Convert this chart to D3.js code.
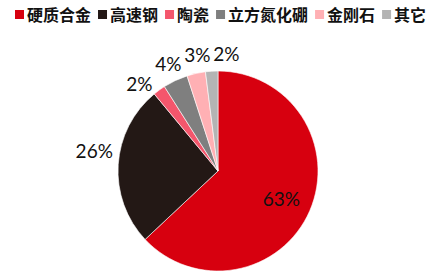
<!DOCTYPE html>
<html>
<head>
<meta charset="utf-8">
<script src="https://cdn.jsdelivr.net/npm/d3@7"></script>
<style>
  html, body { margin: 0; padding: 0; background: #fff; }
  svg { display: block; }
</style>
</head>
<body>
<svg id="chart" width="440" height="280"></svg>
<script>
// Material shares (%)
const categories = ["硬质合金", "高速钢", "陶瓷", "立方氮化硼", "金刚石", "其它"];
const values = [63, 26, 2, 4, 3, 2];
const colors = ["#D7000F", "#231815", "#F4566C", "#7F7F7F", "#FFB0B4", "#B4B4B4"];

const svg = d3.select("#chart");
const cx = 218, cy = 171, r = 100;

// ---- legend ----
const legend = svg.append("g").attr("class", "legend");
let lx = 15;
categories.forEach((name, i) => {
  legend.append("rect")
    .attr("x", lx).attr("y", 10).attr("width", 9).attr("height", 9)
    .attr("fill", colors[i]);
  const t = legend.append("text")
    .attr("x", lx + 12).attr("y", 21)
    .attr("font-family", "'Noto Sans CJK SC', sans-serif")
    .attr("font-size", 16).attr("font-weight", 700)
    .attr("fill", "#111")
    .text(name);
  lx += 12 + t.node().getComputedTextLength() + 7;
});

// ---- pie ----
const pie = d3.pie().sort(null).value(d => d)
  .startAngle(0).endAngle(2 * Math.PI);
const arcs = pie(values);
const arc = d3.arc().innerRadius(0).outerRadius(r);

const g = svg.append("g").attr("transform", `translate(${cx},${cy})`);
g.selectAll("path").data(arcs).join("path")
  .attr("d", arc)
  .attr("fill", (d, i) => colors[i])
  .attr("stroke", "#fff").attr("stroke-width", 0.6);

// ---- labels ----
const mid = d => (d.startAngle + d.endAngle) / 2;
const labels = arcs.map((d, i) => {
  const a = mid(d);
  const share = values[i] / d3.sum(values);
  if (share > 0.5) {
    const rr = r * 0.69;
    return { x: Math.sin(a) * rr, y: -Math.cos(a) * rr, v: values[i], small: false };
  }
  if (share > 0.1) {
    const rr = r * 1.24;
    return { x: Math.sin(a) * rr, y: -Math.cos(a) * rr - 13, v: values[i], small: false };
  }
  const rr = r * 1.18;
  return { x: Math.sin(a) * rr, y: -Math.cos(a) * rr, v: values[i], small: true, R: rr };
});

// spread the crowded small-slice labels evenly around their mean x,
// then put them back on the label circle
const small = labels.filter(l => l.small).sort((a, b) => a.x - b.x);
const gap = 29;
const meanX = d3.mean(small, l => l.x) + 3;
small.forEach((l, k) => {
  l.x = meanX + (k - (small.length - 1) / 2) * gap;
  l.y = -Math.sqrt(Math.max(0, l.R * l.R - l.x * l.x));
});

g.selectAll("text.lbl").data(labels).join("text")
  .attr("class", "lbl")
  .attr("x", d => d.x).attr("y", d => d.y)
  .attr("text-anchor", "middle")
  .attr("dominant-baseline", "central")
  .attr("font-family", "Lato, 'Open Sans', sans-serif")
  .attr("font-size", 19)
  .attr("fill", "#111")
  .text(d => d.v + "%");
</script>
</body>
</html>
